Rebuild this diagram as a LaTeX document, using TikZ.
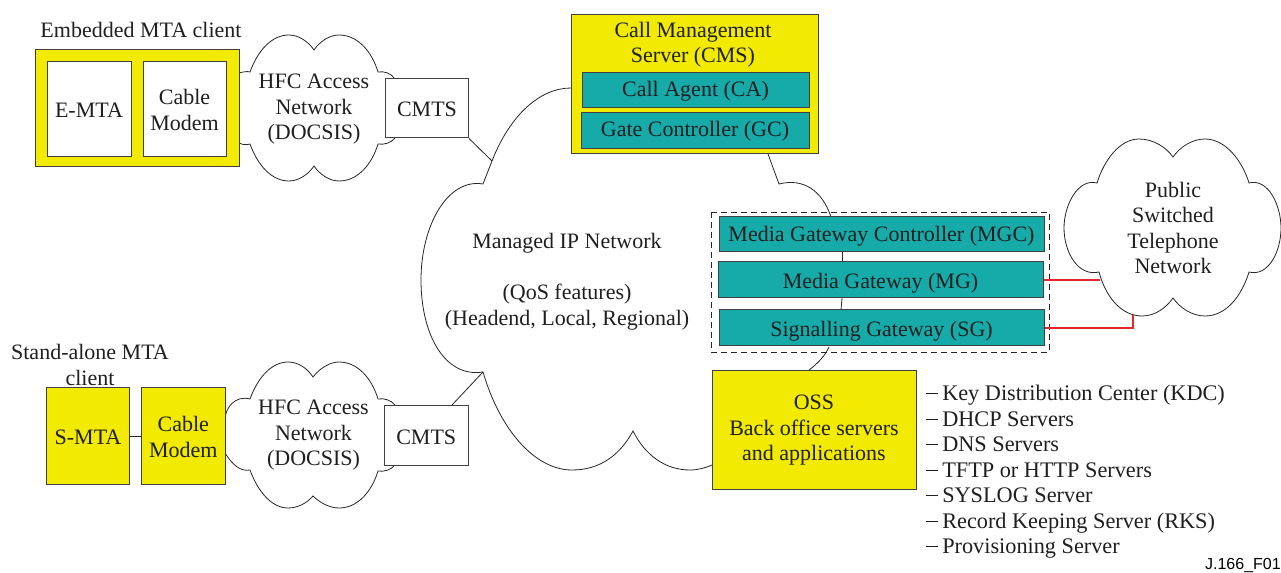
\documentclass[tikz,border=0pt]{standalone}
\usepackage{fontspec}
\setmainfont{Liberation Serif}
\definecolor{ylw}{HTML}{F2EA00}
\definecolor{teal2}{HTML}{16ABA9}
\definecolor{redl}{HTML}{E8262A}
\newcommand{\st}{\rule[-5.8pt]{0pt}{19.2pt}}
\tikzset{
 x=0.75pt,y=-0.75pt,
 lbl/.style={align=center,font=\fontsize{16.5}{19.2}\selectfont,inner sep=0pt,text=black!88},
 lst/.style={anchor=west,font=\fontsize{16.7}{19.2}\selectfont,inner sep=0pt,text=black!88},
 wbox/.style={draw=black!75,fill=white,line width=0.75pt,rectangle,inner sep=0pt},
 ybox/.style={wbox,fill=ylw},
 tbox/.style={wbox,fill=teal2},
 ln/.style={draw=black!85,line width=0.6pt},
 redln/.style={draw=redl,line width=0.8pt},
}
% style, x1, y1, x2, y2, name, vertical offset of the text, text
\newcommand{\bx}[8]{\node[#1,minimum width=#4*0.75pt-#2*0.75pt,minimum height=#5*0.75pt-#3*0.75pt] (#6) at ({(#2+#4)/2},{(#3+#5)/2}) {};
 \node[lbl] (#6-t) at ({(#2+#4)/2},{(#3+#5)/2+#7}) {\st #8\st};}
\begin{document}
\begin{tikzpicture}
\useasboundingbox (0,0) rectangle (1281,573);
% main cloud
\draw[ln] (571,88) .. controls (540,88) and (510,115) .. (492,161) -- (483,184)
 .. controls (448,178) and (421,225) .. (421,280)
 .. controls (421,335) and (445,378) .. (483,372)
 .. controls (500,430) and (535,470) .. (572,470)
 .. controls (600,470) and (620,455) .. (633,431)
 .. controls (645,455) and (665,470) .. (690,470)
 .. controls (698,470) and (705,468) .. (712,465);
\draw[ln] (768,154) -- (779,184) .. controls (803,178) and (822,190) .. (831,217);
\draw[ln] (842,252) -- (842,262);
\draw[ln] (842,298) -- (841,310);
\draw[ln] (829,347) .. controls (825,356) and (818,363) .. (808,371);
% upper HFC cloud
\draw[ln] (239,73) .. controls (243,72) and (247,71) .. (250,72)
 .. controls (258,50) and (272,35) .. (289,35)
 .. controls (298,35) and (308,41) .. (314,50)
 .. controls (320,41) and (330,35) .. (339,35)
 .. controls (358,35) and (372,52) .. (378,72)
 .. controls (384,71) and (391,73) .. (395,79);
\draw[ln] (239,143) .. controls (243,145) and (247,145) .. (250,144)
 .. controls (258,166) and (272,181) .. (289,181)
 .. controls (298,181) and (308,175) .. (314,166)
 .. controls (320,175) and (330,181) .. (339,181)
 .. controls (358,181) and (372,164) .. (378,144)
 .. controls (384,145) and (391,143) .. (395,138);
% lower HFC cloud
\draw[ln] (395,405) .. controls (391,400) and (384,398) .. (378,399)
 .. controls (372,379) and (358,362) .. (339,362)
 .. controls (330,362) and (320,368) .. (313,377)
 .. controls (307,368) and (298,362) .. (288,362)
 .. controls (272,362) and (258,377) .. (250,399)
 .. controls (235,395) and (225,408) .. (225,420);
\draw[ln] (225,453) .. controls (232,464) and (240,472) .. (250,470)
 .. controls (258,492) and (272,508) .. (288,508)
 .. controls (298,508) and (307,503) .. (313,496)
 .. controls (320,503) and (330,508) .. (339,508)
 .. controls (358,508) and (372,491) .. (378,471)
 .. controls (384,472) and (391,470) .. (395,465);
% PSTN cloud
\draw[ln,fill=white] (1173,157)
 .. controls (1180,147) and (1192,139) .. (1205,139)
 .. controls (1225,139) and (1242,160) .. (1249,183)
 .. controls (1268,178) and (1281,205) .. (1281,228)
 .. controls (1281,252) and (1268,277) .. (1249,272)
 .. controls (1241,298) and (1225,316) .. (1205,316)
 .. controls (1192,316) and (1180,308) .. (1173,298)
 .. controls (1166,308) and (1155,316) .. (1142,316)
 .. controls (1122,316) and (1106,298) .. (1099,272)
 .. controls (1078,277) and (1064,252) .. (1064,228)
 .. controls (1064,205) and (1078,178) .. (1097,183)
 .. controls (1104,160) and (1120,139) .. (1139,139)
 .. controls (1153,139) and (1166,147) .. (1173,157) -- cycle;
% embedded client
\node[lbl] (emb) at (141,32) {\st Embedded MTA client\st};
\bx{ybox}{35.5}{50}{239}{167}{eb}{0}{};
\bx{wbox}{47}{62}{131}{157}{emta}{3}{E-MTA};
\bx{wbox}{143}{62}{226}{157}{cm1}{3}{Cable\\Modem};
\node[lbl] (hfc1) at (314,109) {\st HFC Access\\Network\\(DOCSIS)\st};
\bx{wbox}{385.5}{79}{468.5}{138}{cmts1}{3}{CMTS};
\coordinate (j1) at (492,161);
\draw[ln] (cmts1.south east) -- (j1);
% standalone
\node[lbl] (sa) at (90,367.5) {\st Stand-alone MTA\\client\st};
\bx{ybox}{46.5}{388}{129.5}{484}{smta}{3}{S-MTA};
\bx{ybox}{141.5}{388}{225}{484}{cm2}{3.5}{Cable\\Modem};
\draw[ln] (smta) -- (cm2);
\node[lbl] (hfc2) at (313.5,435) {\st HFC Access\\Network\\(DOCSIS)\st};
\bx{wbox}{384.5}{405}{468}{465}{cmts2}{4}{CMTS};
\coordinate (j2) at (483,372);
\coordinate (j2s) at (452,405);
\draw[ln] (j2s) -- (j2);
% IP network
\node[lbl] (ip) at (567,282) {\st Managed IP Network\\\st\\(QoS features)\\(Headend, Local, Regional)\st};
% CMS
\bx{ybox}{571}{15}{818}{154}{cms}{0}{};
\node[lbl] (cmst) at (693,45) {\st Call Management\\Server (CMS)\st};
\bx{tbox}{582}{73}{809}{108}{ca}{1}{Call Agent (CA)};
\bx{tbox}{581}{113}{809}{149}{gc}{0.5}{Gate Controller (GC)};
% gateway group
\draw[draw=black!85,line width=0.6pt,dash pattern=on 4.5pt off 3pt] (711,212) rectangle (1049,352);
\bx{tbox}{719}{217}{1044}{252}{mgc}{2}{Media Gateway Controller (MGC)};
\bx{tbox}{718}{262}{1043}{298}{mg}{3}{Media Gateway (MG)};
\bx{tbox}{719}{310}{1044}{346}{sg}{3}{Signalling Gateway (SG)};
% PSTN label and red links
\node[lbl] (pstn) at (1173,230.5) {\st Public\\Switched\\Telephone\\Network\st};
\coordinate (r1) at (1100,280);
\coordinate (r2) at (1133,315);
\draw[redln] (mg.east) -- (r1);
\draw[redln] (sg.east) -| (r2);
% OSS
\bx{ybox}{712}{371}{916}{489}{oss}{0}{OSS\\Back office servers\\and applications};
\foreach \n/\yy/\th/\t in {a/395/0.5/Key Distribution Center (KDC),b/421/0.5/DHCP Servers,c/446/0.5/DNS Servers,d/472/1.1/TFTP or HTTP Servers,e/497/0.5/SYSLOG Server,f/523/0.5/Record Keeping Server (RKS),g/548/0.5/Provisioning Server}{
 \node[lst] (l\n) at (926,\yy) {\st\rule[0.27em]{9pt}{\th pt}\kern3pt\t};
}
\node[anchor=east,inner sep=0pt,font=\fontsize{12}{14}\selectfont\fontspec{Liberation Sans}] (jn) at (1281,566) {J.166\_F01};
\end{tikzpicture}
\end{document}
